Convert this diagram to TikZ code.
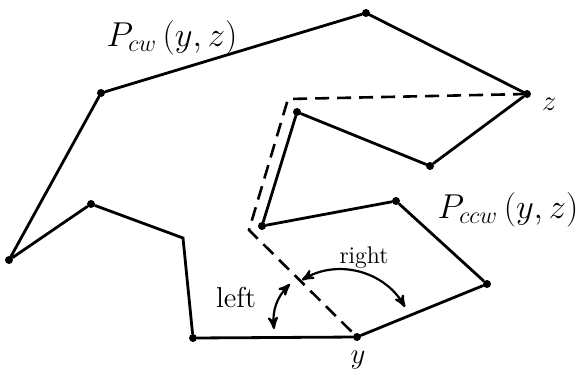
\documentclass[tikz,border=0pt]{standalone}
\usepackage{amsmath}
\usepackage{tikz}
\usetikzlibrary{arrows}

\tikzset{
  vertex/.style={circle,fill=black,inner sep=0pt,minimum size=4pt},
  chain/.style={line width=1.4pt,line cap=round},
  hull/.style={line width=1.3pt,dash pattern=on 7pt off 4pt},
  turn/.style={<->,>=stealth',line width=1.1pt}
}

\begin{document}
\begin{tikzpicture}[x=0.5pt,y=-0.5pt]
        \useasboundingbox (0,0) rectangle (584,381);
        % end points
        \node[vertex] (y) at (357,337) {};
        \node[vertex] (z) at (527,94) {};
        % clockwise chain
        \node[vertex] (c1) at (193,338) {};
        \coordinate (c2) at (183,238);
        \node[vertex] (c3) at (91,204) {};
        \node[vertex] (c4) at (9,260) {};
        \node[vertex] (c5) at (101,93) {};
        \node[vertex] (c6) at (366,13) {};
        \draw[chain] (y) -- (c1) -- (c2) -- (c3) -- (c4) -- (c5) -- (c6) -- (z);
        % counter-clockwise chain
        \node[vertex] (d1) at (487,284) {};
        \node[vertex] (d2) at (396,201) {};
        \node[vertex] (d3) at (262,226) {};
        \node[vertex] (d4) at (297,112) {};
        \node[vertex] (d5) at (430,166) {};
        \draw[chain] (y) -- (d1) -- (d2) -- (d3) -- (d4) -- (d5) -- (z);
        % dashed hull
        \coordinate (h1) at (288,99);
        \coordinate (h2) at (249,230);
        \draw[hull] (z.center) -- (h1) -- (h2) -- (y.center);
        % labels
        \node[font=\LARGE] (lcw) at (172,38) {$P_{cw}\,(y,z)$};
        \node[font=\LARGE] (lccw) at (508,210) {$P_{ccw}\,(y,z)$};
        \node[font=\Large,anchor=west] (lz) at (535,104) {$z$};
        \node[font=\Large] (ly) at (358,360) {$y$};
        \node[font=\Large] (lleft) at (236,298) {left};
        \node[font=\large] (lright) at (364,258) {right};
        % turning arrows
        \coordinate (a1) at (274,329);
        \coordinate (a2) at (290,284);
        \coordinate (b1) at (302,280);
        \coordinate (b2) at (405,307);
        \draw[turn] (a1) to[bend left=25] (a2);
        \draw[turn] (b1) to[bend left=45] (b2);
    \end{tikzpicture}
\end{document}
